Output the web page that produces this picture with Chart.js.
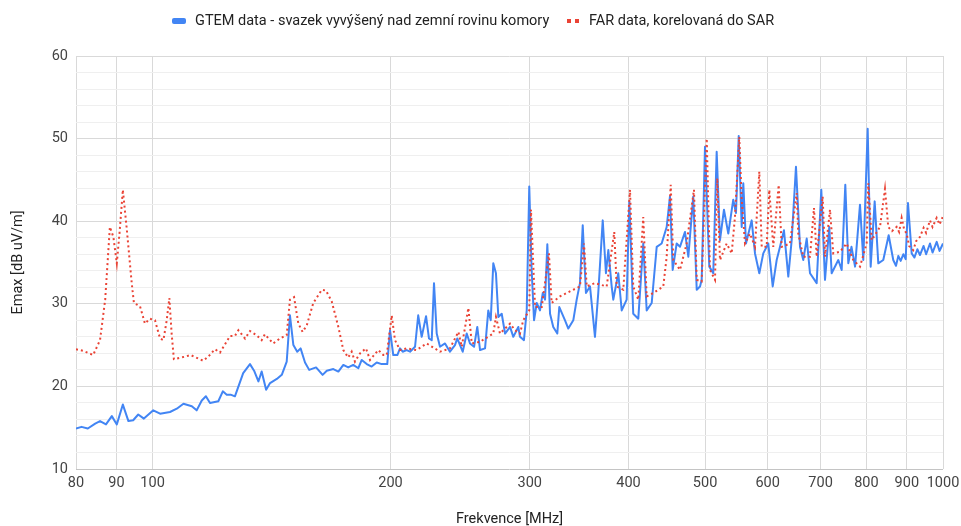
<!DOCTYPE html>
<html><head><meta charset="utf-8">
<script src="https://cdn.jsdelivr.net/npm/chart.js@4/dist/chart.umd.min.js"></script>
<style>html,body{margin:0;padding:0;background:#fff;}#wrap{width:961px;height:526px;position:relative;}</style>
</head><body><div id="wrap"><canvas id="c" width="961" height="526"></canvas></div>
<script>
const legendLabels = ['GTEM data - svazek vyvýšený nad zemní rovinu komory', 'FAR data, korelovaná do SAR'];
const xTitle = 'Frekvence [MHz]';
const yTitle = 'Emax [dB uV/m]';
const xTicks = [80, 90, 100, 200, 300, 400, 500, 600, 700, 800, 900, 1000];
const yGrid = [10, 12, 14, 16, 18, 20, 22, 24, 26, 28, 30, 32, 34, 36, 38, 40, 42, 44, 46, 48, 50, 52, 54, 56, 58, 60];

const gtemFreq = [
 80, 81.3, 82.8, 84.6, 85.8, 87.3, 88.8, 90.1, 91.7, 93.2,
 94.5, 95.9, 97.5, 100.2, 102.2, 105.2, 107.3, 109.4, 112.1, 113.7,
 115.4, 116.8, 118.2, 121.1, 122.7, 124.1, 125.5, 127.1, 130.2, 132.8,
 134.4, 136.1, 137.4, 139.2, 140.8, 143.6, 145.7, 147.8, 149.2, 150.7,
 152.4, 153.9, 155.9, 157.8, 161, 164.1, 166.1, 169.3, 171.8, 174.3,
 176.8, 179.4, 182.1, 183.9, 186.6, 189.3, 192.1, 194.9, 198.1, 199.7,
 201.6, 204, 205.6, 207.2, 209.6, 211.7, 214.8, 216.8, 219, 221.8,
 223.7, 225.5, 227, 228.8, 231, 234.4, 237.8, 241.3, 242.9, 246.8,
 249.7, 252.1, 255.1, 257.5, 259.6, 263.4, 265.9, 267.8, 269.8, 271.9,
 273.8, 276.5, 279.2, 283.3, 286, 290.2, 291.6, 295, 297.4, 299.6,
 301.7, 303.8, 306.2, 309.1, 311.6, 313.7, 315.8, 318.3, 321.3, 325.1,
 327, 332.5, 335.7, 340.6, 344, 347.3, 350.1, 353.4, 357.6, 362.8,
 366.3, 371.1, 374.6, 377.2, 380.9, 382.7, 388.3, 392.2, 397.9, 401,
 405.6, 411.6, 417.6, 421.8, 428, 434.3, 440.6, 447.1, 451.4, 455,
 460.3, 464.8, 471.6, 476.2, 483.1, 488, 492.7, 495.1, 499.9, 506.2,
 512.1, 517.2, 522.2, 528.3, 535, 542.8, 547.1, 551.5, 556.3, 558.9,
 563.3, 572.7, 578.3, 585.6, 592.4, 601.1, 608.9, 616, 622, 629.2,
 637.2, 643.5, 651.6, 659.3, 665.6, 672.3, 678.8, 692.1, 701.5, 709.1,
 718, 723, 737.1, 744.4, 752.3, 758.9, 766, 774, 785.2, 792.8,
 803, 810, 819.5, 828.2, 840.3, 853.6, 865.1, 872, 878, 884,
 891, 897, 903, 912.8, 920, 928, 935.1, 945, 952, 962.8,
 970, 981.8, 990, 1000
];
const gtemEmax = [
 14.9, 15.1, 14.9, 15.5, 15.8, 15.4, 16.4, 15.4, 17.8, 15.8,
 15.9, 16.6, 16.1, 17.1, 16.7, 16.9, 17.3, 17.9, 17.6, 17.1,
 18.3, 18.8, 18.0, 18.2, 19.4, 19.0, 19.0, 18.8, 21.6, 22.7,
 21.9, 20.6, 21.8, 19.6, 20.4, 20.9, 21.4, 23.0, 28.6, 25.0,
 24.2, 24.6, 22.9, 22.0, 22.3, 21.4, 21.9, 22.1, 21.8, 22.6,
 22.3, 22.6, 22.2, 23.2, 22.7, 22.4, 22.9, 22.7, 22.7, 26.8,
 23.8, 23.8, 24.6, 24.2, 24.4, 24.2, 24.8, 28.6, 26.0, 28.5,
 25.8, 25.6, 32.5, 26.4, 24.8, 25.2, 24.2, 25.0, 25.8, 24.2,
 26.4, 25.2, 24.8, 27.2, 24.4, 24.6, 29.2, 28.0, 34.9, 33.7,
 28.4, 28.8, 26.4, 27.2, 26.0, 27.2, 26.0, 25.6, 29.2, 44.2,
 34.1, 28.0, 30.1, 29.2, 31.3, 30.5, 37.2, 28.8, 27.2, 26.4,
 29.6, 28.0, 27.0, 28.0, 30.5, 32.5, 39.5, 31.3, 32.1, 26.0,
 31.3, 40.1, 33.7, 36.5, 32.1, 30.5, 33.7, 29.2, 30.5, 42.4,
 28.8, 28.2, 37.3, 29.2, 30.1, 36.9, 37.3, 39.3, 43.0, 34.1,
 37.3, 36.9, 38.7, 35.7, 43.0, 31.7, 32.1, 32.9, 49.0, 34.5,
 33.7, 48.4, 37.7, 41.4, 38.5, 42.6, 41.0, 50.3, 39.3, 44.6,
 37.3, 40.1, 36.1, 33.7, 36.1, 37.3, 32.1, 35.3, 36.9, 38.9,
 33.3, 37.7, 46.6, 36.9, 35.3, 37.9, 33.7, 32.5, 43.8, 32.9,
 39.3, 33.7, 35.3, 34.1, 44.4, 34.9, 36.9, 34.5, 42.0, 35.3,
 51.2, 34.5, 42.4, 34.9, 35.3, 38.3, 35.3, 34.6, 35.8, 35.2,
 36.0, 35.4, 42.2, 36.1, 35.6, 36.6, 35.9, 37.0, 36.0, 37.3,
 36.2, 37.5, 36.4, 37.3
];

const farFreq = [
 80, 81.7, 84.1, 85.8, 87.1, 88.3, 89.2, 90.1, 90.8, 91.7,
 92.7, 94.1, 94.7, 96.4, 97.8, 99.2, 100.7, 102.2, 103.2, 104.2,
 105, 105.7, 106.4, 109.9, 111.7, 115.9, 117.6, 119.9, 121.7, 125.3,
 127.1, 128.4, 130.9, 132.8, 135.4, 137.4, 138.7, 142.1, 144.9, 147.8,
 149.2, 151, 152.9, 154.8, 156.7, 159.7, 163.7, 165.7, 168.5, 171.8,
 174.3, 176.8, 178.6, 180.3, 183, 186.2, 188.4, 193, 195.8, 197.8,
 200.7, 202.6, 205.6, 209.6, 215.8, 222.2, 231, 237.8, 243.7, 246.1,
 250.9, 253.4, 259.6, 269.8, 271.9, 275.1, 283.3, 287.4, 291.6, 294.4,
 299.6, 301.1, 304.7, 310.7, 317.3, 319.8, 327.7, 337.3, 347.3, 351.4,
 354.2, 362.8, 375.4, 383.8, 386.5, 394, 401.8, 405.6, 411.6, 417.6,
 421.8, 430, 442.7, 447.1, 452.4, 455.8, 464.8, 473.9, 484.1, 488,
 495.1, 502.4, 507.2, 514.7, 518.1, 522.2, 532.5, 540.3, 545.5, 552.4,
 556.3, 561.7, 569.9, 578.3, 585.6, 589.7, 598.3, 602.9, 609.9, 619.6,
 625, 640.3, 653, 656, 665.6, 678.8, 686.7, 692.1, 704.3, 709.1,
 719.5, 726.4, 740.7, 755.3, 770, 785.2, 800.6, 804.4, 812.4, 832.3,
 844.5, 852.6, 862, 873.7, 880, 886.5, 893, 899.5, 906, 917,
 925, 935.1, 945, 952, 962.8, 970, 981.8, 990, 1000
];
const farEmax = [
 24.5, 24.3, 23.8, 25.6, 30.5, 39.3, 38.1, 34.9, 38.5, 43.8,
 39.3, 32.5, 30.1, 29.7, 27.6, 28.2, 28.0, 25.8, 25.6, 28.0,
 30.7, 26.4, 23.3, 23.6, 23.8, 23.1, 23.6, 24.5, 24.1, 26.1,
 26.1, 26.8, 25.8, 26.7, 26.2, 25.6, 26.3, 25.2, 25.8, 26.2,
 30.5, 30.8, 27.6, 26.6, 27.4, 30.1, 31.7, 31.6, 30.3, 27.2,
 24.4, 23.5, 24.2, 23.0, 24.0, 24.6, 23.2, 24.4, 23.8, 23.8,
 28.6, 25.6, 24.4, 24.6, 24.4, 25.2, 24.2, 24.6, 26.6, 24.8,
 29.5, 25.2, 25.4, 26.4, 28.4, 26.4, 27.6, 26.8, 26.4, 28.0,
 29.2, 41.4, 29.6, 29.6, 36.1, 30.1, 30.9, 31.5, 32.1, 37.3,
 32.1, 32.5, 32.1, 38.7, 32.1, 31.7, 43.8, 32.1, 30.5, 40.5,
 30.9, 31.3, 32.1, 35.7, 44.4, 35.3, 34.1, 37.3, 43.8, 32.9,
 32.7, 50.0, 34.1, 32.9, 45.2, 35.3, 37.3, 36.1, 40.5, 50.2,
 42.6, 37.3, 38.5, 36.9, 46.0, 36.9, 36.9, 43.8, 36.9, 44.4,
 36.9, 37.3, 43.4, 38.5, 35.7, 35.7, 41.6, 35.7, 43.0, 35.7,
 41.4, 36.1, 36.3, 37.3, 35.3, 34.5, 37.3, 44.6, 37.7, 39.3,
 43.9, 39.3, 38.8, 39.3, 38.7, 40.4, 39.0, 38.5, 37.0, 36.5,
 37.6, 38.1, 39.2, 38.6, 40.1, 39.3, 40.4, 39.6, 40.6
];

const FONT = 'Roboto, "Liberation Sans", Arial, sans-serif';
const FS = 14.5;
const BLUE = '#4285F4', RED = '#EA4335';

const overlay = {
  id: 'overlay',
  afterDraw(chart) {
    const ctx = chart.ctx, ca = chart.chartArea;
    ctx.save();
    ctx.font = FS + 'px ' + FONT;
    ctx.textBaseline = 'middle';
    ctx.textAlign = 'left';
    const y = 21;
    ctx.fillStyle = BLUE;
    ctx.beginPath();
    if (ctx.roundRect) ctx.roundRect(172, y - 3, 14, 6, 2); else ctx.rect(172, y - 3, 14, 6);
    ctx.fill();
    ctx.fillStyle = '#222';
    ctx.fillText(legendLabels[0], 195, y + 0.5);
    ctx.fillStyle = RED;
    ctx.fillRect(567, y - 2, 4, 4);
    ctx.fillRect(575, y - 2, 4, 4);
    ctx.fillStyle = '#222';
    ctx.fillText(legendLabels[1], 589, y + 0.5);
    ctx.textAlign = 'center';
    ctx.fillText(xTitle, (ca.left + ca.right) / 2, 519);
    ctx.translate(18, (ca.top + ca.bottom) / 2);
    ctx.rotate(-Math.PI / 2);
    ctx.fillText(yTitle, 0, 0);
    ctx.restore();
  }
};

new Chart(document.getElementById('c'), {
  type: 'line',
  data: {
    datasets: [
      {
        label: legendLabels[0],
        data: gtemFreq.map((f, i) => ({ x: f, y: gtemEmax[i] })),
        borderColor: BLUE, backgroundColor: BLUE, borderWidth: 2,
        pointRadius: 0, tension: 0, order: 1, borderJoinStyle: 'round'
      },
      {
        label: legendLabels[1],
        data: farFreq.map((f, i) => ({ x: f, y: farEmax[i] })),
        borderColor: RED, backgroundColor: RED, borderWidth: 2,
        borderDash: [2, 3], pointRadius: 0, tension: 0, order: 0
      }
    ]
  },
  options: {
    responsive: false, animation: false, maintainAspectRatio: false,
    layout: { padding: { top: 56, right: 18, left: 0, bottom: 0 } },
    plugins: { legend: { display: false }, tooltip: { enabled: false } },
    scales: {
      x: {
        type: 'logarithmic', min: 80, max: 1000,
        afterBuildTicks(s) { s.ticks = xTicks.map(v => ({ value: v })); },
        afterFit(s) { s.height = 57; s.paddingLeft = 0; s.paddingRight = 0; },
        ticks: {
          autoSkip: false, maxRotation: 0, padding: 6, color: '#444',
          font: { family: FONT, size: FS },
          callback: (v) => String(v)
        },
        grid: { color: '#d9d9d9', drawTicks: false },
        border: { display: false }
      },
      y: {
        min: 10, max: 60,
        afterBuildTicks(s) { s.ticks = yGrid.map(v => ({ value: v })); },
        afterFit(s) { s.width = 76; s.paddingTop = 0; s.paddingBottom = 0; },
        ticks: {
          autoSkip: false, padding: 8, color: '#444', font: { family: FONT, size: FS },
          callback: (v) => (v % 10 === 0 ? String(v) : '')
        },
        grid: {
          color: (c) => (c.tick && c.tick.value === 10 ? '#c4c4c4' : (c.tick && c.tick.value % 10 === 0 ? '#d9d9d9' : '#efefef')),
          drawTicks: false
        },
        border: { display: false }
      }
    }
  },
  plugins: [overlay]
});
</script>
</body></html>
